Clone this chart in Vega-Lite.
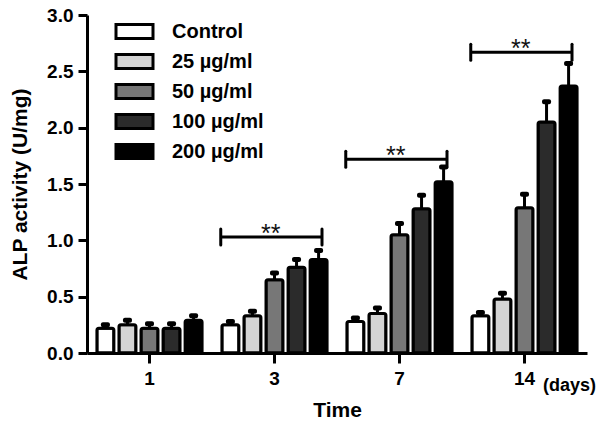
{
  "$schema": "https://vega.github.io/schema/vega-lite/v6.json",
  "width": 500,
  "height": 338,
  "autosize": "none",
  "padding": {"left": 87, "top": 15, "right": 15, "bottom": 78},
  "background": "white",
  "config": {
    "view": {"stroke": null},
    "font": "Liberation Sans",
    "axis": {
      "domainColor": "black", "domainWidth": 3, "tickColor": "black", "tickWidth": 3,
      "labelFont": "Liberation Sans", "labelFontWeight": "bold", "labelColor": "black",
      "titleFont": "Liberation Sans", "titleFontWeight": "bold", "titleColor": "black",
      "grid": false
    }
  },
  "datasets": {
    "bars": [
      {"time": "1", "dose": "Control", "value": 0.22, "upper": 0.25},
      {"time": "1", "dose": "25 µg/ml", "value": 0.25, "upper": 0.29},
      {"time": "1", "dose": "50 µg/ml", "value": 0.22, "upper": 0.26},
      {"time": "1", "dose": "100 µg/ml", "value": 0.22, "upper": 0.26},
      {"time": "1", "dose": "200 µg/ml", "value": 0.29, "upper": 0.33},
      {"time": "3", "dose": "Control", "value": 0.25, "upper": 0.28},
      {"time": "3", "dose": "25 µg/ml", "value": 0.33, "upper": 0.37},
      {"time": "3", "dose": "50 µg/ml", "value": 0.65, "upper": 0.71},
      {"time": "3", "dose": "100 µg/ml", "value": 0.76, "upper": 0.83},
      {"time": "3", "dose": "200 µg/ml", "value": 0.83, "upper": 0.91},
      {"time": "7", "dose": "Control", "value": 0.28, "upper": 0.31},
      {"time": "7", "dose": "25 µg/ml", "value": 0.35, "upper": 0.40},
      {"time": "7", "dose": "50 µg/ml", "value": 1.05, "upper": 1.15},
      {"time": "7", "dose": "100 µg/ml", "value": 1.28, "upper": 1.40},
      {"time": "7", "dose": "200 µg/ml", "value": 1.52, "upper": 1.65},
      {"time": "14", "dose": "Control", "value": 0.33, "upper": 0.36},
      {"time": "14", "dose": "25 µg/ml", "value": 0.48, "upper": 0.53},
      {"time": "14", "dose": "50 µg/ml", "value": 1.29, "upper": 1.41},
      {"time": "14", "dose": "100 µg/ml", "value": 2.05, "upper": 2.23},
      {"time": "14", "dose": "200 µg/ml", "value": 2.37, "upper": 2.57}
    ],
    "brackets": [
      {"time": "3", "y": 1.03, "label": "**"},
      {"time": "7", "y": 1.72, "label": "**"},
      {"time": "14", "y": 2.67, "label": "**"}
    ],
    "unit": [
      {"time": "14", "y": -0.29, "label": "(days)"}
    ]
  },
  "layer": [
    {
      "data": {"name": "bars"},
      "mark": {"type": "rule", "strokeWidth": 3, "color": "black"},
      "encoding": {
        "x": {"field": "time", "type": "nominal", "scale": {"domain": ["1", "3", "7", "14"], "paddingInner": 0, "paddingOuter": 0},
              "axis": {"labelAngle": 0, "labelFontSize": 19, "tickSize": 10, "labelPadding": 6, "title": "Time", "titleFontSize": 21, "titlePadding": 11}},
        "xOffset": {"field": "dose", "type": "nominal", "scale": {"domain": ["Control", "25 µg/ml", "50 µg/ml", "100 µg/ml", "200 µg/ml"], "paddingInner": 0.23, "paddingOuter": 0.45}},
        "y": {"field": "value", "type": "quantitative", "scale": {"domain": [0, 3], "nice": false, "zero": true},
              "axis": {"values": [0, 0.5, 1, 1.5, 2, 2.5, 3], "format": ".1f", "labelFontSize": 19, "tickSize": 9, "labelPadding": 5, "title": "ALP activity (U/mg)", "titleFontSize": 21, "titlePadding": 16}},
        "y2": {"field": "upper"}
      }
    },
    {
      "data": {"name": "bars"},
      "mark": {"type": "tick", "thickness": 5, "size": 9, "color": "black", "cornerRadius": 2, "opacity": 1},
      "encoding": {
        "x": {"field": "time", "type": "nominal"},
        "xOffset": {"field": "dose", "type": "nominal"},
        "y": {"field": "upper", "type": "quantitative"}
      }
    },
    {
      "data": {"name": "bars"},
      "mark": {"type": "bar", "stroke": "black", "strokeWidth": 3, "cornerRadiusTopLeft": 2, "cornerRadiusTopRight": 2},
      "encoding": {
        "x": {"field": "time", "type": "nominal"},
        "xOffset": {"field": "dose", "type": "nominal"},
        "y": {"field": "value", "type": "quantitative"},
        "fill": {"field": "dose", "type": "nominal",
                 "scale": {"domain": ["Control", "25 µg/ml", "50 µg/ml", "100 µg/ml", "200 µg/ml"], "range": ["#ffffff", "#d4d4d4", "#777777", "#2b2b2b", "#000000"]},
                 "legend": {"orient": "none", "legendX": 36, "legendY": 5, "title": null, "padding": 0,
                            "symbolType": "M-1.85,-0.7H1.85V0.7H-1.85Z", "symbolSize": 400,
                            "symbolStrokeColor": "black", "symbolStrokeWidth": 3, "symbolOpacity": 1,
                            "labelFont": "Liberation Sans", "labelFontWeight": "bold", "labelFontSize": 20, "labelColor": "black",
                            "labelOffset": 26, "rowPadding": 3}}
      }
    },
    {
      "data": {"name": "brackets"},
      "mark": {"type": "rule", "strokeWidth": 3, "color": "black"},
      "encoding": {
        "x": {"field": "time", "type": "nominal", "bandPosition": 0.07},
        "x2": {"field": "time", "bandPosition": 0.88},
        "y": {"field": "y", "type": "quantitative"}
      }
    },
    {
      "data": {"name": "brackets"},
      "mark": {"type": "rule", "strokeWidth": 3, "color": "black", "yOffset": -8, "y2Offset": 8, "strokeCap": "round"},
      "encoding": {
        "x": {"field": "time", "type": "nominal", "bandPosition": 0.07},
        "y": {"field": "y", "type": "quantitative"},
        "y2": {"field": "y"}
      }
    },
    {
      "data": {"name": "brackets"},
      "mark": {"type": "rule", "strokeWidth": 3, "color": "black", "yOffset": -8, "y2Offset": 8, "strokeCap": "round"},
      "encoding": {
        "x": {"field": "time", "type": "nominal", "bandPosition": 0.88},
        "y": {"field": "y", "type": "quantitative"},
        "y2": {"field": "y"}
      }
    },
    {
      "data": {"name": "brackets"},
      "mark": {"type": "text", "font": "Liberation Sans", "fontSize": 25, "baseline": "alphabetic", "align": "center", "dy": 5, "color": "#111111"},
      "encoding": {
        "x": {"field": "time", "type": "nominal", "bandPosition": 0.47},
        "y": {"field": "y", "type": "quantitative"},
        "text": {"field": "label"}
      }
    },
    {
      "data": {"name": "unit"},
      "mark": {"type": "text", "font": "Liberation Sans", "fontWeight": "bold", "fontSize": 18, "baseline": "middle", "align": "center", "color": "black"},
      "encoding": {
        "x": {"field": "time", "type": "nominal", "bandPosition": 0.86},
        "y": {"field": "y", "type": "quantitative"},
        "text": {"field": "label"}
      }
    }
  ]
}
